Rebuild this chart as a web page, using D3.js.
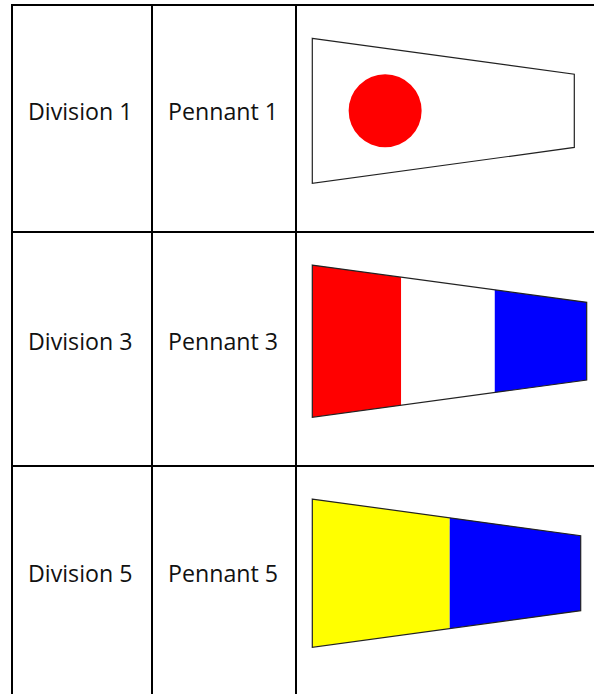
<!DOCTYPE html>
<html>

<head>
  <title>Division pennants</title>
  <meta charset="utf-8" />
  <script src="https://d3js.org/d3.v7.min.js"></script>
  <style>
    html, body { margin: 0; padding: 0; background: #fff; overflow: hidden; }
    svg { display: block; }
    text { font-family: "Open Sans", sans-serif; font-size: 23.2px; fill: #111; }
  </style>
</head>

<body>
  <svg id="chart" width="594" height="694"></svg>

  <script>
    const divisions = ["Division 1", "Division 3", "Division 5"];
    const pennants = ["Pennant 1", "Pennant 3", "Pennant 5"];

    // flag sizes
    const flagLength = [262, 274.4, 268.4];
    const flagHoist = [145, 152.3, 148.3];
    const flagFly = [73.3, 77.7, 75];

    // colour bands per flag, as share of the flag length
    const flagBands = [
      [{ from: 0, to: 1, color: "#ffffff" }],
      [{ from: 0, to: 0.324, color: "#ff0000" }, { from: 0.324, to: 0.665, color: "#ffffff" }, { from: 0.665, to: 1, color: "#0000ff" }],
      [{ from: 0, to: 0.512, color: "#ffff00" }, { from: 0.512, to: 1, color: "#0000ff" }]
    ];
    // the red ball on pennant 1: centre along the length, radius in flag units
    const ballAt = 0.278;
    const ballRadius = 36.5;

    const svg = d3.select("#chart");
    const width = +svg.attr("width");
    const height = +svg.attr("height");

    const rowEdges = [5, 232, 466, 700];
    const colEdges = [12, 152, 296, width + 2];
    const flagLeft = 312.3;
    const flagMiddle = [110.8, 341.2, 573.2];
    const textBaseline = [120, 350, 582];
    const pad = 16;

    const rows = d3.range(divisions.length);

    // grid
    svg.selectAll("line.h")
      .data(rowEdges.slice(0, 3))
      .join("line")
      .attr("class", "h")
      .attr("x1", colEdges[0] - 1).attr("x2", width)
      .attr("y1", d => d).attr("y2", d => d)
      .attr("stroke", "#000").attr("stroke-width", 2);

    svg.selectAll("line.v")
      .data(colEdges.slice(0, 3))
      .join("line")
      .attr("class", "v")
      .attr("x1", d => d).attr("x2", d => d)
      .attr("y1", rowEdges[0] - 1).attr("y2", height)
      .attr("stroke", "#000").attr("stroke-width", 2);

    // labels
    svg.selectAll("text.division")
      .data(rows)
      .join("text")
      .attr("class", "division")
      .attr("x", colEdges[0] + pad)
      .attr("y", i => textBaseline[i])
      .text(i => divisions[i]);

    svg.selectAll("text.pennant")
      .data(rows)
      .join("text")
      .attr("class", "pennant")
      .attr("x", colEdges[1] + pad)
      .attr("y", i => textBaseline[i])
      .text(i => pennants[i]);

    // flags
    rows.forEach(i => {
      const x = d3.scaleLinear().domain([0, 1]).range([flagLeft, flagLeft + flagLength[i]]);
      const half = d3.scaleLinear().domain([0, 1]).range([flagHoist[i] / 2, flagFly[i] / 2]);
      const mid = flagMiddle[i];
      const g = svg.append("g").attr("class", "flag");

      const shape = (a, b) => [
        [x(a), mid - half(a)], [x(b), mid - half(b)],
        [x(b), mid + half(b)], [x(a), mid + half(a)]
      ];
      const line = d3.line().curve(d3.curveLinearClosed);

      g.selectAll("path.band")
        .data(flagBands[i])
        .join("path")
        .attr("class", "band")
        .attr("d", d => line(shape(d.from, d.to)))
        .attr("fill", d => d.color);

      g.append("path")
        .attr("d", line(shape(0, 1)))
        .attr("fill", "none")
        .attr("stroke", "#222")
        .attr("stroke-width", 1.2);

      if (i === 0) {
        g.append("circle")
          .attr("cx", x(ballAt))
          .attr("cy", mid)
          .attr("r", ballRadius)
          .attr("fill", "#ff0000");
      }
    });
  </script>
</body>

</html>
